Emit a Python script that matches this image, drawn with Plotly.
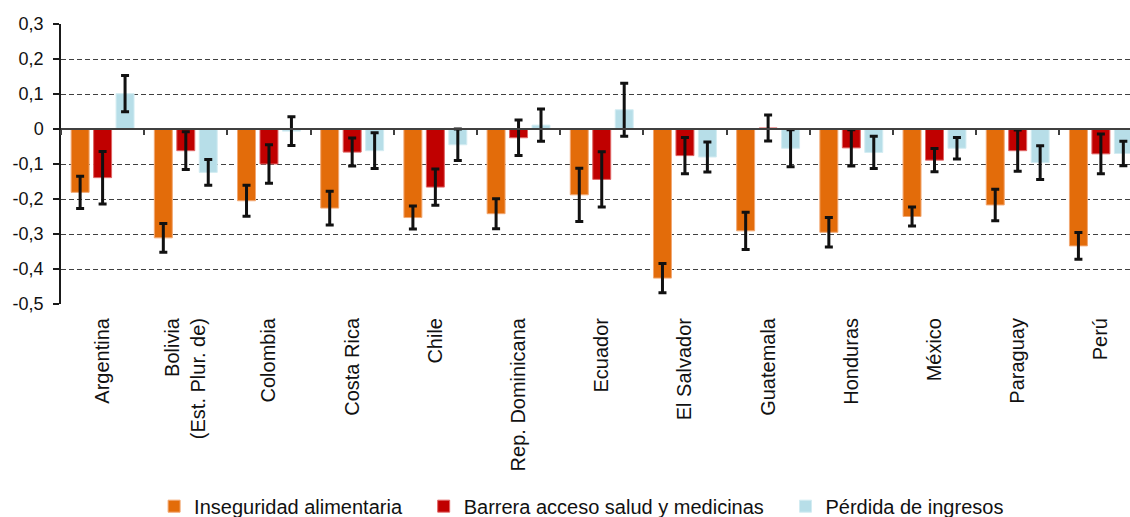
import plotly.graph_objects as go

categories = ["Argentina", "Bolivia<br>(Est. Plur. de)", "Colombia", "Costa Rica", "Chile",
              "Rep. Dominicana", "Ecuador", "El Salvador", "Guatemala", "Honduras",
              "México", "Paraguay", "Perú"]

series_names = ["Inseguridad alimentaria", "Barrera acceso salud y medicinas", "Pérdida de ingresos"]

inseguridad = [-0.181, -0.311, -0.205, -0.226, -0.253, -0.242, -0.188, -0.426, -0.291, -0.295, -0.250, -0.217, -0.334]
inseguridad_err = [0.046, 0.041, 0.044, 0.048, 0.033, 0.043, 0.076, 0.042, 0.053, 0.042, 0.027, 0.045, 0.038]

barrera = [-0.139, -0.062, -0.100, -0.066, -0.166, -0.025, -0.144, -0.076, 0.003, -0.054, -0.089, -0.062, -0.071]
barrera_err = [0.075, 0.054, 0.055, 0.040, 0.052, 0.051, 0.079, 0.052, 0.037, 0.052, 0.033, 0.059, 0.057]

perdida = [0.101, -0.124, -0.006, -0.062, -0.045, 0.011, 0.055, -0.080, -0.055, -0.067, -0.055, -0.096, -0.070]
perdida_err = [0.052, 0.037, 0.041, 0.051, 0.045, 0.046, 0.076, 0.043, 0.053, 0.046, 0.031, 0.048, 0.035]

tick_vals = [0.3, 0.2, 0.1, 0, -0.1, -0.2, -0.3, -0.4, -0.5]
tick_text = ["0,3", "0,2", "0,1", "0", "-0,1", "-0,2", "-0,3", "-0,4", "-0,5"]

colors = ["#E36C0A", "#C00000", "#B7DEE8"]
edge_colors = ["#F2A873", "#E06666", "#D3ECF2"]

FONT = "Arial, Liberation Sans, sans-serif"
TXT = "#111111"
PAD = "\u00a0" * 3  # extra spacing between legend entries

fig = go.Figure()
for i, (name, vals, errs, col, ecol) in enumerate(zip(series_names,
                                       [inseguridad, barrera, perdida],
                                       [inseguridad_err, barrera_err, perdida_err],
                                       colors, edge_colors)):
    fig.add_trace(go.Bar(
        x=categories, y=vals, name=name + (PAD if i < len(series_names) - 1 else ""),
        marker=dict(color=col, line=dict(color=ecol, width=1)),
        error_y=dict(type="data", array=errs, symmetric=True, color="#111111",
                     thickness=3, width=4),
    ))

# invisible trace to carry the zero-crossing category axis (tick marks between groups)
fig.add_trace(go.Scatter(x=categories, y=[None] * len(categories), xaxis="x2",
                         showlegend=False, hoverinfo="skip", mode="markers"))

x_range = [-0.5, 12.35]
y_range = [-0.5, 0.3]

fig.update_layout(
    width=1130, height=517,
    margin=dict(l=61, r=0, t=24, b=213, autoexpand=False),
    paper_bgcolor="white", plot_bgcolor="white",
    barmode="group", bargap=0.19, bargroupgap=0.2,
    font=dict(family=FONT, color=TXT),
    showlegend=True,
    legend=dict(orientation="h", x=0.487, xanchor="center", y=-0.722, yanchor="middle",
                font=dict(size=20, family=FONT, color=TXT),
                traceorder="normal", itemwidth=30),
    xaxis=dict(type="category", categoryorder="array", categoryarray=categories,
               range=x_range, showline=False, showgrid=False, zeroline=False,
               automargin=False,
               ticks="outside", ticklen=5, tickcolor="rgba(0,0,0,0)",
               tickangle=-90, tickfont=dict(size=20, family=FONT, color=TXT)),
    xaxis2=dict(type="category", categoryorder="array", categoryarray=categories,
                overlaying="x", anchor="free", position=(0 - y_range[0]) / (y_range[1] - y_range[0]),
                range=x_range, showline=True, linecolor="#404040", linewidth=1.5,
                ticks="outside", ticklen=5, tickwidth=1.5, tickcolor="#404040",
                tickson="boundaries", showticklabels=False, showgrid=False, zeroline=False),
    yaxis=dict(range=y_range, tickvals=tick_vals, ticktext=tick_text,
               automargin=False,
               showline=True, linecolor="#1a1a1a", linewidth=1.5,
               ticks="outside", ticklen=6, tickwidth=1.5, tickcolor="#1a1a1a",
               ticklabelstandoff=6,
               showgrid=True, gridcolor="#404040", gridwidth=1.2, griddash="5px,3px",
               zeroline=False,
               tickfont=dict(size=18, family=FONT, color=TXT)),
)

fig.write_html("out.html", config={"displayModeBar": False},
               post_script="document.body.style.margin='0';document.body.style.overflow='hidden';")
